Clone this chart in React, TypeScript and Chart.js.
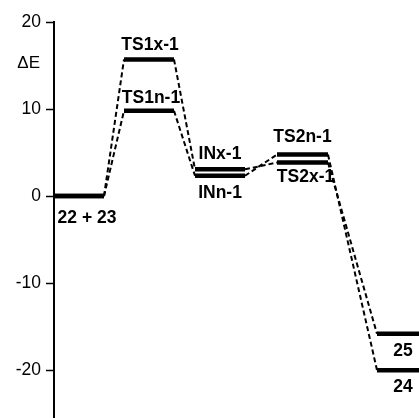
import { useEffect, useRef } from "react";
import { Chart, registerables } from "chart.js";

Chart.register(...registerables);

// stage horizontal extents (x units, hidden axis)
const stageStart = [0, 1.4, 2.82, 4.46, 6.46];
const stageEnd = [1, 2.4, 3.82, 5.48, 7.3];

// energies per pathway (kcal/mol)
const pathX = [0, 15.7, 3.07, 3.85, -15.83];
const pathN = [0, 9.8, 2.33, 4.77, -20.0];

const yTicks = [-20, -10, 0, 10, 20];
const yMin = -25.5;
const yMax = 20;
const axisLabel = "ΔE";
const axisLabelValue = 15.3;

type Lbl = { text: string; path: "x" | "n"; stage: number; dx: number; dy: number };
const levelLabels: Lbl[] = [
  { text: "22 + 23", path: "x", stage: 0, dx: 8, dy: 22 },
  { text: "TS1x-1", path: "x", stage: 1, dx: 1, dy: -14 },
  { text: "TS1n-1", path: "n", stage: 1, dx: 2, dy: -13 },
  { text: "INx-1", path: "x", stage: 2, dx: 0, dy: -15 },
  { text: "INn-1", path: "n", stage: 2, dx: 0, dy: 17 },
  { text: "TS2n-1", path: "n", stage: 3, dx: 0, dy: -17 },
  { text: "TS2x-1", path: "x", stage: 3, dx: 3, dy: 15 },
  { text: "25", path: "x", stage: 4, dx: 5, dy: 17 },
  { text: "24", path: "n", stage: 4, dx: 5, dy: 17 },
];

function buildPoints(energies: number[]) {
  const pts: { x: number; y: number }[] = [];
  energies.forEach((e, i) => {
    pts.push({ x: stageStart[i], y: e });
    pts.push({ x: stageEnd[i], y: e });
  });
  return pts;
}

const FONT = 'Arial, "Liberation Sans", sans-serif';

export default function App() {
  const ref = useRef<HTMLCanvasElement | null>(null);

  useEffect(() => {
    if (!ref.current) return;
    const labelPlugin = {
      id: "levelLabels",
      afterDatasetsDraw(chart: any) {
        const ctx = chart.ctx;
        const xs = chart.scales.x;
        const ys = chart.scales.y;
        ctx.save();
        ctx.fillStyle = "#000";
        ctx.font = `bold 17.5px ${FONT}`;
        ctx.textAlign = "center";
        ctx.textBaseline = "middle";
        levelLabels.forEach((l) => {
          const e = l.path === "x" ? pathX[l.stage] : pathN[l.stage];
          const cx = (xs.getPixelForValue(stageStart[l.stage]) + xs.getPixelForValue(stageEnd[l.stage])) / 2;
          ctx.fillText(l.text, cx + l.dx, ys.getPixelForValue(e) + l.dy);
        });
        ctx.font = `17px ${FONT}`;
        ctx.textAlign = "right";
        ctx.fillText(axisLabel, chart.chartArea.left - 14, ys.getPixelForValue(axisLabelValue));
        ctx.restore();
      },
    };

    const seg = {
      borderWidth: (c: any) => (c.p0DataIndex % 2 === 0 ? 4.5 : 2),
      borderDash: (c: any) => (c.p0DataIndex % 2 === 0 ? [] : [5, 3]),
    };

    const chart = new Chart(ref.current, {
      type: "line",
      data: {
        datasets: [
          {
            data: buildPoints(pathX),
            borderColor: "#000",
            borderWidth: 4.5,
            pointRadius: 0,
            tension: 0,
            borderCapStyle: "butt",
            segment: seg as any,
            clip: false as any,
          },
          {
            data: buildPoints(pathN),
            borderColor: "#000",
            borderWidth: 4.5,
            pointRadius: 0,
            tension: 0,
            borderCapStyle: "butt",
            segment: seg as any,
            clip: false as any,
          },
        ],
      },
      options: {
        animation: false,
        responsive: false,
        maintainAspectRatio: false,
        layout: { padding: { top: 22, bottom: 0, left: 0, right: 0 } },
        plugins: { legend: { display: false }, tooltip: { enabled: false } },
        scales: {
          x: {
            type: "linear",
            display: false,
            min: 0,
            max: 7.3,
          },
          y: {
            type: "linear",
            min: yMin,
            max: yMax,
            afterBuildTicks: (s: any) => {
              s.ticks = yTicks.map((v) => ({ value: v }));
            },
            afterFit: (s: any) => {
              s.width = 54;
              s.paddingTop = 0;
              s.paddingBottom = 0;
            },
            grid: {
              drawOnChartArea: false,
              drawTicks: true,
              tickLength: 8,
              tickWidth: 1.5,
              tickColor: "#000",
            },
            border: { display: true, color: "#000", width: 2 },
            ticks: {
              color: "#000",
              padding: 5,
              font: { size: 17.5, family: FONT },
            },
          },
        },
      },
      plugins: [labelPlugin],
    });
    return () => chart.destroy();
  }, []);

  return (
    <div style={{ position: "fixed", left: 0, top: 0, width: 419, height: 418, background: "#fff" }}>
      <canvas ref={ref} width={419} height={418} style={{ width: 419, height: 418 }} />
    </div>
  );
}
